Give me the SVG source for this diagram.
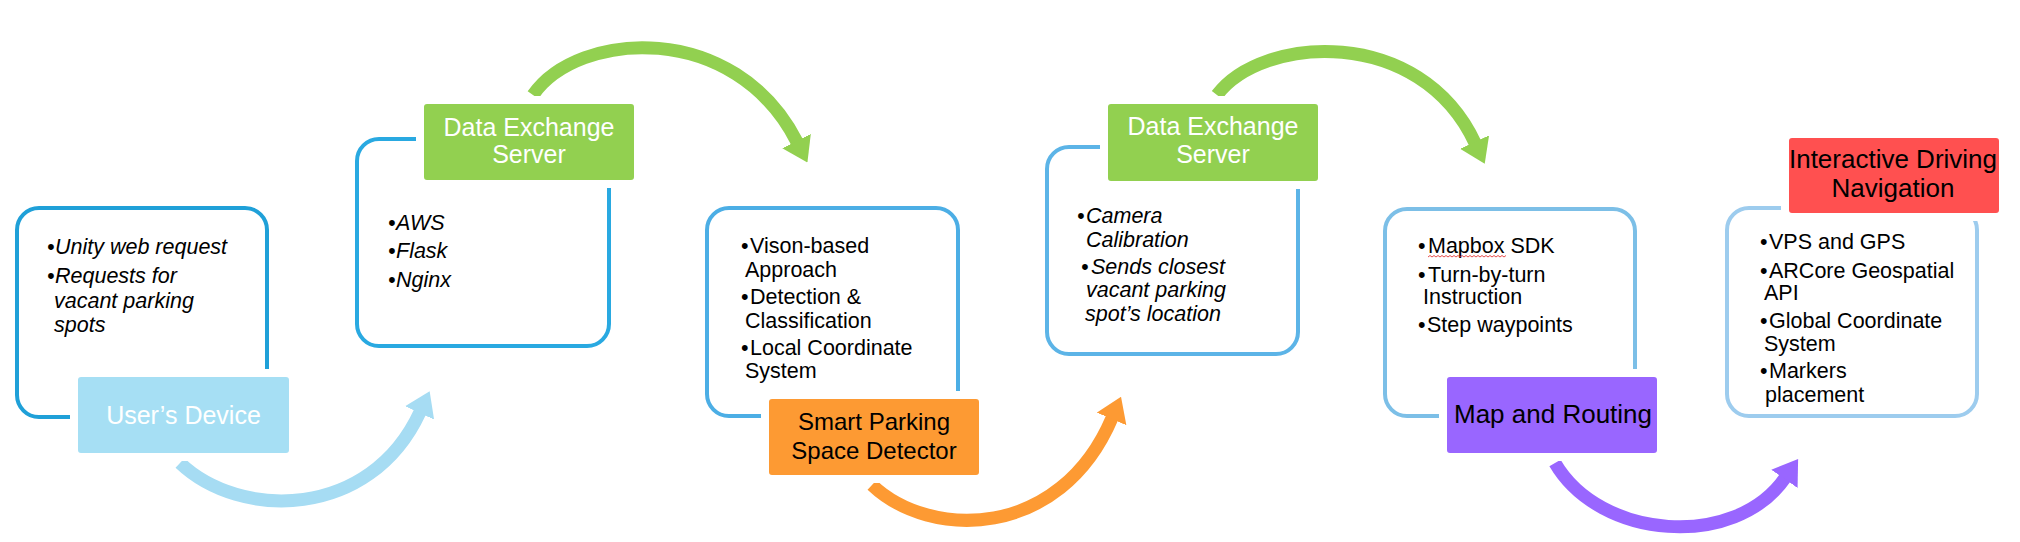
<svg xmlns="http://www.w3.org/2000/svg" width="2020" height="542" viewBox="0 0 2020 542">
<style>
  .outline { fill: #ffffff; stroke-width: 4; }
  .label { stroke: #ffffff; stroke-width: 8; }
  .ltxt { font-family: "Liberation Sans", Arial, sans-serif; font-size: 25px; text-anchor: middle; }
  .btxt { font-family: "Liberation Sans", Arial, sans-serif; font-size: 21.5px; fill: #000000; }
  .it { font-style: italic; }
  .arc { fill: none; stroke-width: 13; }
</style>
<defs>
  <marker id="ahBlue" markerUnits="userSpaceOnUse" viewBox="0 0 24 32" markerWidth="24" markerHeight="32" refX="1" refY="16" orient="auto"><path d="M0,0 L24,16 L0,32 z" fill="#a6dcf3"/></marker>
  <marker id="ahGreen" markerUnits="userSpaceOnUse" viewBox="0 0 24 32" markerWidth="24" markerHeight="32" refX="1" refY="16" orient="auto"><path d="M0,0 L24,16 L0,32 z" fill="#92d050"/></marker>
  <marker id="ahOrange" markerUnits="userSpaceOnUse" viewBox="0 0 24 32" markerWidth="24" markerHeight="32" refX="1" refY="16" orient="auto"><path d="M0,0 L24,16 L0,32 z" fill="#fd9a33"/></marker>
  <marker id="ahPurple" markerUnits="userSpaceOnUse" viewBox="0 0 24 32" markerWidth="24" markerHeight="32" refX="1" refY="16" orient="auto"><path d="M0,0 L24,16 L0,32 z" fill="#9966ff"/></marker>
</defs>
<rect width="2020" height="542" fill="#ffffff"/>

<g id="connectors">
  <path class="arc" stroke="#a6dcf3" d="M180,463 C240,520 370,520 420,412" marker-end="url(#ahBlue)"/>
  <path class="arc" stroke="#92d050" d="M533,95 C578,30 735,20 797,142" marker-end="url(#ahGreen)"/>
  <path class="arc" stroke="#fd9a33" d="M872,485 C930,540 1060,540 1112,418" marker-end="url(#ahOrange)"/>
  <path class="arc" stroke="#92d050" d="M1217,95 C1262,35 1420,25 1475,143" marker-end="url(#ahGreen)"/>
  <path class="arc" stroke="#9966ff" d="M1555,463 C1600,540 1735,550 1785,478" marker-end="url(#ahPurple)"/>
</g>

<g id="users-device">
  <rect class="outline" x="17" y="208" width="250" height="209" rx="22" stroke="#1fa0d8"/>
  <rect class="label" x="74" y="373" width="219" height="84" rx="7" fill="#a6dff4"/>
  <text class="ltxt" x="183.5" y="424" fill="#ffffff">User’s Device</text>
  <text class="btxt it">
    <tspan x="47" y="254">•</tspan><tspan x="55" y="254">Unity web request</tspan>
    <tspan x="47" y="283">•</tspan><tspan x="55" y="283">Requests for</tspan>
    <tspan x="54" y="308">vacant parking</tspan>
    <tspan x="54" y="332">spots</tspan>
  </text>
</g>

<g id="data-exchange-server-1">
  <rect class="outline" x="357" y="139" width="252" height="207" rx="22" stroke="#29a9e1"/>
  <rect class="label" x="420" y="100" width="218" height="84" rx="7" fill="#92d050"/>
  <text class="ltxt" fill="#ffffff"><tspan x="529" y="136">Data Exchange</tspan><tspan x="529" y="163">Server</tspan></text>
  <text class="btxt it">
    <tspan x="388" y="230">•</tspan><tspan x="396" y="230">AWS</tspan>
    <tspan x="388" y="258">•</tspan><tspan x="396" y="258">Flask</tspan>
    <tspan x="388" y="287">•</tspan><tspan x="396" y="287">Nginx</tspan>
  </text>
</g>

<g id="smart-parking-space-detector">
  <rect class="outline" x="707" y="208" width="251" height="208" rx="22" stroke="#4caee5"/>
  <rect class="label" x="765" y="395" width="218" height="84" rx="7" fill="#fd9a33"/>
  <text class="ltxt" fill="#000000" style="font-size:24px"><tspan x="874" y="430">Smart Parking</tspan><tspan x="874" y="459">Space Detector</tspan></text>
  <text class="btxt">
    <tspan x="741" y="253">•</tspan><tspan x="750" y="253">Vison-based</tspan>
    <tspan x="745" y="277">Approach</tspan>
    <tspan x="741" y="304">•</tspan><tspan x="750" y="304">Detection &amp;</tspan>
    <tspan x="745" y="328">Classification</tspan>
    <tspan x="741" y="355">•</tspan><tspan x="750" y="355">Local Coordinate</tspan>
    <tspan x="745" y="378">System</tspan>
  </text>
</g>

<g id="data-exchange-server-2">
  <rect class="outline" x="1047" y="147" width="251" height="207" rx="22" stroke="#5cb4e7"/>
  <rect class="label" x="1104" y="100" width="218" height="85" rx="7" fill="#92d050"/>
  <text class="ltxt" fill="#ffffff"><tspan x="1213" y="135">Data Exchange</tspan><tspan x="1213" y="163">Server</tspan></text>
  <text class="btxt it">
    <tspan x="1077" y="223">•</tspan><tspan x="1086" y="223">Camera</tspan>
    <tspan x="1086" y="247">Calibration</tspan>
    <tspan x="1081" y="274">•</tspan><tspan x="1091" y="274">Sends closest</tspan>
    <tspan x="1086" y="297">vacant parking</tspan>
    <tspan x="1085" y="321">spot’s location</tspan>
  </text>
</g>

<g id="map-and-routing">
  <rect class="outline" x="1385" y="209" width="250" height="207" rx="22" stroke="#7cbfe7"/>
  <rect class="label" x="1443" y="373" width="218" height="84" rx="7" fill="#9966ff"/>
  <text class="ltxt" x="1553" y="423" fill="#000000" style="font-size:26px">Map and Routing</text>
  <text class="btxt">
    <tspan x="1418" y="253">•</tspan><tspan x="1428" y="253">Mapbox SDK</tspan>
    <tspan x="1418" y="282">•</tspan><tspan x="1428" y="282">Turn-by-turn</tspan>
    <tspan x="1423" y="304">Instruction</tspan>
    <tspan x="1418" y="332">•</tspan><tspan x="1427" y="332">Step waypoints</tspan>
  </text>
  <path d="M1428,257 l2,-1.5 l2,1.5 l2,-1.5 l2,1.5 l2,-1.5 l2,1.5 l2,-1.5 l2,1.5 l2,-1.5 l2,1.5 l2,-1.5 l2,1.5 l2,-1.5 l2,1.5 l2,-1.5 l2,1.5 l2,-1.5 l2,1.5 l2,-1.5 l2,1.5 l2,-1.5 l2,1.5 l2,-1.5 l2,1.5 l2,-1.5 l2,1.5 l2,-1.5 l2,1.5 l2,-1.5 l2,1.5 l2,-1.5 l2,1.5 l2,-1.5 l2,1.5 l2,-1.5 l2,1.5 l2,-1.5 l2,1.5 l2,-1.5" fill="none" stroke="#e02020" stroke-width="0.8"/>
</g>

<g id="interactive-driving-navigation">
  <rect class="outline" x="1727" y="208" width="250" height="208" rx="22" stroke="#9dccee"/>
  <rect class="label" x="1785" y="134" width="218" height="83" rx="7" fill="#ff5050"/>
  <text class="ltxt" fill="#000000" style="font-size:26px"><tspan x="1893" y="168">Interactive Driving</tspan><tspan x="1893" y="197">Navigation</tspan></text>
  <text class="btxt">
    <tspan x="1760" y="249">•</tspan><tspan x="1769" y="249">VPS and GPS</tspan>
    <tspan x="1760" y="278">•</tspan><tspan x="1769" y="278">ARCore Geospatial</tspan>
    <tspan x="1764" y="300">API</tspan>
    <tspan x="1760" y="328">•</tspan><tspan x="1769" y="328">Global Coordinate</tspan>
    <tspan x="1764" y="351">System</tspan>
    <tspan x="1760" y="378">•</tspan><tspan x="1769" y="378">Markers</tspan>
    <tspan x="1765" y="402">placement</tspan>
  </text>
</g>
</svg>
